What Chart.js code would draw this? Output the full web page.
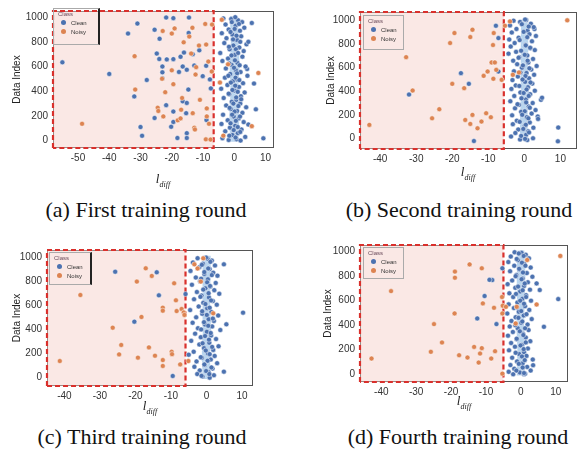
<!DOCTYPE html>
<html>
<head>
<meta charset="utf-8">
<script src="https://cdn.jsdelivr.net/npm/chart.js@4.4.1/dist/chart.umd.min.js"></script>
<style>
  body { margin: 0; background: #fff; }
  #page { position: relative; width: 588px; height: 454px; overflow: hidden; background: #fff; }
  canvas { position: absolute; }
  .cap { position: absolute; font: 22px "Liberation Serif", serif; color: #111; white-space: nowrap; transform: translate(-50%, -50%); }
  .xt { position: absolute; font: italic 13px "Liberation Serif", serif; color: #222; transform: translate(-50%, -50%); white-space: nowrap; }
  .xt sub { font-size: 8px; }
  .leg { position: absolute; border: 1px solid #aaa; font: 6px "Liberation Sans", sans-serif; color: #333; padding: 2px 4px; box-sizing: border-box; }
  .leg .t { color: #6a4a5a; margin-bottom: 1px; }
  .leg .r { display: flex; align-items: center; height: 9px; padding-left: 3px; }
  .leg .d { width: 5px; height: 5px; border-radius: 50%; margin-right: 5px; }
</style>
</head>
<body>
<div id="page">
  <canvas id="cA" width="294" height="195" style="left:0;top:0"></canvas>
  <canvas id="cB" width="294" height="195" style="left:294px;top:0"></canvas>
  <canvas id="cC" width="294" height="195" style="left:0;top:225px"></canvas>
  <canvas id="cD" width="294" height="195" style="left:294px;top:225px"></canvas>
</div>
<script>
// ---- data ----
const panelIds = ['cA', 'cB', 'cC', 'cD'];
const captions = ['(a) First training round', '(b) Second training round', '(c) Third training round', '(d) Fourth training round'];
const seriesNames = ['Clean', 'Noisy'];
const xTitle = 'l', xSub = 'diff';
const yTitle = 'Data Index';

// tick labels
const xTickVals = [[-50, -40, -30, -20, -10, 0, 10], [-40, -30, -20, -10, 0, 10], [-40, -30, -20, -10, 0, 10], [-40, -30, -20, -10, 0, 10]];
const yTickVals = [0, 200, 400, 600, 800, 1000];

// axis limits, dashed box right edge
const xLimits = [[-58, 12.7], [-45.6, 14.6], [-44.9, 13.1], [-46.1, 13.5]];
const yLimits = [[-60, 1050], [-91, 1074], [-69, 1058], [-63, 1054]];
const boxEdge = [-6.6, -5.7, -5.9, -5.0];

// light dense strip of clean points round zero
const bandY = [-10, 200, 400, 600, 800, 1010];
const bandLeft = [[-1.3, -1.6, -1.2, -1.5, -1.1, -1.4], [-1.0, -1.2, -0.9, -1.1, -1.0, -0.9], [-1.1, -1.3, -1.0, -1.2, -1.1, -1.0], [-1.2, -1.0, -1.3, -1.1, -1.2, -1.0]];
const bandRight = [[1.3, 1.6, 1.2, 1.7, 1.4, 1.2], [1.0, 0.9, 1.2, 1.0, 1.1, 0.9], [1.1, 1.0, 1.3, 1.1, 1.0, 1.2], [1.0, 1.2, 0.9, 1.1, 1.3, 1.0]];

const cleanA = [
  [-55,634],[-40,540],[-31,948],[-34,867],[-28,491],[-32,358],[-30,110],[-29.5,39],[-25.5,183],[-25.5,898],[-24.8,705],[-23.9,825],
  [-24,661],[-23,600],[-23,553],[-23,506],[-21.8,997],[-19.5,992],[-21.6,658],[-19.5,660],[-17.2,679],[-16.1,713],[-17.7,556],[-16.5,600],
  [-15.2,574],[-14.7,413],[-16.5,318],[-15.2,305],[-21.8,287],[-19.5,235],[-19.5,151],[-20.2,112],[-18.2,21],[-14.5,997],[-14.6,872],
  [-13.3,700],[-12.8,608],[-15.4,222],[-11.2,731],[-10.1,522],[-9,606],[-7.8,496],[-7.5,423],[-8.9,167],[-15.2,60],[-15.2,21],
  [9.3,18],[6.9,253],[6.3,462],[5.6,953],[4.1,580],[4.5,130],[3.9,780],
  [-3.5,990],[-1,985],[1.2,975],[2.5,960],[-2.8,940],[0.4,930],[3.2,915],[-1.8,900],[1.8,890],[-4,870],[-0.6,860],[2.2,845],[-2.5,830],
  [0.9,815],[4.5,800],[-3.2,790],[-0.3,770],[1.6,755],[-1.5,740],[3,725],[-4.5,710],[0.2,695],[2.6,680],[-2,665],[-3.8,645],[1,630],
  [-0.9,615],[3.6,600],[-2.7,585],[0.5,570],[2,555],[-1.3,540],[4.2,525],[-3,510],[0.8,495],[-0.5,480],[2.8,465],[-2.2,450],[1.5,435],
  [-4.2,420],[0.1,405],[3.3,390],[-1.6,375],[2.1,360],[-3.4,345],[0.6,330],[-0.8,315],[1.9,300],[-2.6,285],[3.8,270],[-1.1,255],[0.9,240],
  [2.6,225],[-3.6,210],[-0.2,195],[1.4,180],[-2.1,165],[3,150],[-4.1,135],[0.3,120],[-1.4,105],[2.3,90],[-2.9,75],[1.1,60],[-0.6,45],
  [3.5,30],[-3.8,20],[0.7,10],[2,0],[-1.8,5],
  [0.3,1000],[-0.8,960],[1.5,945],[0.1,905],[-1.2,880],[0.7,850],[-0.4,820],[1.9,800],[-1.7,760],[0.5,740],[1.2,710],[-0.9,690],
  [0.2,650],[-1.6,625],[1.7,610],[-0.1,590],[0.9,545],[-1.9,525],[0.4,510],[1.6,490],[-1.1,470],[0.3,445],[-0.6,410],[1.1,395],
  [-1.8,380],[0.6,350],[2.2,335],[-0.3,300],[1.3,280],[-1.5,265],[0.1,235],[-0.7,210],[1.8,195],[0.5,160],[-1.2,140],[1.1,110],
  [-0.2,85],[1.9,70],[-1.6,40],[0.4,25]
];
const noisyA = [
  [-48.7,136],[-31.9,684],[-31.7,413],[-19.1,909],[-20,867],[-22.9,888],[-13.4,914],[-14.4,843],[-16.2,796],[-11.3,770],[-9,778],
  [-13.8,705],[-7.1,940],[-9.3,945],[-8.3,640],[-12.2,595],[-12.4,535],[-20,569],[-19.5,457],[-23.1,501],[-22.1,392],[-16.7,345],
  [-24.5,266],[-24.3,240],[-22.7,196],[-18.1,164],[-17.2,180],[-13.3,222],[-12.8,104],[-12.6,90],[-8.8,261],[-8.8,196],[-8.1,136],
  [-9.1,10],[-7.6,8],[-11,330],[-7.2,560],[-17,250],[-4,979],[-4.6,470],[5.6,117],[7.7,548],[-2,618],[-3.5,40]
];

const cleanB = [
  [-17.6,554],[-15.4,463],[-32,372],[-14,-23],[-7.9,957],[-7.2,852],[-7.2,568],
  [9.4,91],[9.3,-26],[4.6,327],[3.7,185],[2.8,929],
  [-3,1000],[0.5,1005],[-1.2,990],[1.8,975],[-4,960],[2.6,945],[-2.2,930],[0.9,915],[-3.5,900],[1.4,885],[3.2,870],[-1.6,855],[-4.2,840],
  [2.1,825],[-2.7,810],[0.3,795],[-3.8,780],[1.7,765],[2.9,750],[-2.3,735],[-4.4,720],[0.8,705],[-1.4,690],[2.4,675],[-3.1,660],[1.1,645],
  [-2,630],[3.4,615],[-0.7,600],[1.9,585],[-2.9,570],[0.6,555],[2.7,540],[-1.8,525],[1.3,510],[-3.3,495],[0.2,480],[2.2,465],[-2.4,450],
  [1,435],[-3.6,420],[2.9,405],[-1.1,390],[1.6,375],[-2.8,360],[4.9,345],[0.4,330],[-3.9,315],[2.3,300],[-1.5,285],[1.2,270],[-2.6,255],
  [3.1,240],[-0.9,225],[2,210],[-3.4,195],[0.7,180],[3.8,165],[-2.1,150],[1.5,135],[-3.2,120],[0.1,105],[2.5,90],[-1.7,75],[1.1,60],
  [-2.5,45],[0.5,30],[-3.7,15],[2.4,0],[-1.2,-10],[0.8,-15],
  [0.2,1010],[-0.7,970],[1.2,950],[-0.2,905],[0.8,860],[-1.3,835],[0.4,790],[1.6,770],[-0.9,745],[0.1,710],[-1.6,685],[0.9,660],
  [-0.4,620],[1.4,595],[-1.1,560],[0.3,530],[-0.5,500],[1.7,475],[-1.4,445],[0.6,415],[-0.2,385],[1.2,360],[-0.8,340],[0.5,305],
  [-1.9,290],[1.5,260],[0.1,230],[-0.6,200],[1.1,170],[-1.3,140],[0.4,115],[-0.3,80],[1.3,50],[-0.9,20],[0.2,-5]
];
const noisyB = [
  [-43,114],[-32.8,690],[-31,406],[-25.6,170],[-23.6,247],[-20,463],[-20.6,810],[-19.4,895],[-16.7,426],[-16.4,156],[-15,122],
  [-14.4,199],[-13,85],[-15,861],[-14.4,923],[-11.3,531],[-11.9,142],[-10.6,213],[-10.2,568],[-9.3,179],[-8.6,506],[-9.1,645],
  [-8.2,645],[-7.8,582],[-8.7,793],[-8.5,895],[-6.3,497],[11.9,1003],[-4,994],[-5.4,957],[-3.2,540],[-1.5,560]
];

const cleanC = [
  [-25.7,878],[-14,873],[-13.4,682],[-20.3,464],[-9.5,14],[-5.9,693],
  [10.3,539],[4.9,939],[5.6,442],[4.9,50],
  [-2.5,990],[0.3,985],[1.5,970],[-3.8,955],[-1,945],[2.4,930],[-2,915],[0.9,900],[-4.5,885],[1.9,870],[-0.6,860],[3.1,845],[-3,830],
  [0.4,815],[-1.8,800],[2.6,785],[-4.1,770],[1.1,755],[-0.3,740],[2.2,725],[-2.7,710],[3.6,695],[-1.4,680],[0.7,665],[-3.5,650],[1.8,635],
  [-0.9,620],[2.9,605],[-2.2,590],[0.2,575],[-4.6,560],[1.4,545],[-1.2,530],[3.3,515],[-2.9,500],[0.6,485],[2.1,470],[-3.9,455],[-0.4,440],
  [1.6,425],[-2.4,410],[3.9,395],[0.1,380],[-3.2,365],[1.3,350],[-1.6,335],[2.7,320],[-4.3,305],[0.8,290],[-2,275],[3.4,260],[-0.7,245],
  [1.9,230],[-3.6,215],[0.4,200],[-5,190],[2.3,180],[-1.3,165],[1.2,150],[-2.8,135],[3,120],[-0.5,105],[-3.4,90],[1.7,75],[-1.9,60],
  [0.6,45],[-2.6,30],[2.1,20],[-1.1,10],[0.9,0],
  [-0.1,995],[1.1,960],[-1.3,935],[0.5,905],[-0.6,875],[1.5,850],[-1.5,820],[0.2,790],[1,760],[-0.9,730],[0.6,700],[-1.7,670],
  [1.3,640],[-0.3,610],[0.9,580],[-1.2,550],[0.1,520],[1.8,490],[-0.7,460],[0.5,430],[-1.5,400],[1.2,370],[-0.4,345],[0.7,315],
  [-1.1,285],[1.6,255],[-0.2,225],[0.9,195],[-1.6,170],[0.3,140],[-0.6,110],[1.4,85],[-0.1,55],[0.8,30],[-1.4,15]
];
const noisyC = [
  [-41.3,138],[-35.5,685],[-26.4,414],[-24,271],[-24.6,193],[-19.6,796],[-18.3,503],[-19.3,166],[-17.1,906],[-15.4,843],[-16.2,251],
  [-14.5,182],[-12.3,580],[-12.3,555],[-12.3,146],[-12.3,97],[-9.1,782],[-8.6,641],[-8.4,552],[-9.8,215],[-9.7,195],[-7,569],[-6.4,541],
  [-6.2,520],[-7.4,110],[-5.1,138],[-3.4,939],[-0.9,989],[-1.6,796],[1.9,533],[-2.5,905]
];

const cleanD = [
  [-12.5,455],[-10.4,638],[-8.2,768],[-7,409],[-5.3,864],[-9,770],
  [10.7,613],[6.6,387],[5.4,687],[4.5,741],[3.5,74],[0.9,0],
  [-1.8,995],[0.2,990],[1.4,975],[-2.9,960],[2.3,945],[-0.8,930],[-3.6,915],[1,900],[-1.9,885],[2.8,870],[-0.4,855],[-3.1,840],[1.7,825],
  [-1.3,810],[3.3,795],[0.5,780],[-2.5,765],[2,750],[-3.8,735],[0.9,720],[-1.6,705],[2.6,690],[-0.2,675],[-3.3,660],[1.5,645],[-2.2,630],
  [0.4,615],[2.9,600],[-1,585],[-3.5,570],[1.2,555],[-2,540],[2.4,525],[-0.6,510],[-3.9,495],[0.8,480],[-1.5,465],[3.1,450],[-2.7,435],
  [0.1,420],[1.9,405],[-3.2,390],[-0.9,375],[2.2,360],[-2.3,345],[0.6,330],[-3.7,315],[1.4,300],[-1.2,285],[2.7,270],[-2.8,255],[0.3,240],
  [-1.7,225],[2,210],[-3.4,195],[0.9,180],[-0.5,165],[1.6,150],[-2.5,135],[3.4,120],[-1.1,105],[0.5,90],[-3,75],[1.8,60],[-1.9,45],
  [2.8,30],[-3.5,20],[-0.3,15],[1.2,5],[-2.2,0],
  [-0.6,985],[0.8,965],[-1.2,940],[0.3,910],[1.3,885],[-0.5,860],[0.6,830],[-1.5,800],[0.2,775],[1.1,740],[-0.8,715],[0.5,685],
  [-1.4,655],[1.5,630],[-0.2,600],[0.9,575],[-1.1,545],[0.1,515],[1.6,490],[-0.7,460],[0.4,430],[-1.6,400],[1.2,375],[-0.3,350],
  [0.7,320],[-1.2,290],[1.4,260],[-0.1,235],[0.8,205],[-1.5,175],[0.3,145],[1.1,115],[-0.6,85],[0.5,55],[-1.3,30],[0.9,10]
];
const noisyD = [
  [-42.8,128],[-37.2,678],[-24.9,409],[-22.6,259],[-25.8,183],[-18.9,837],[-18.9,787],[-19,496],[-17.7,155],[-14.7,896],[-15.3,136],
  [-13.4,223],[-12.1,95],[-11.7,169],[-11.2,213],[-11.2,864],[-10.9,578],[-8.5,128],[-7.4,188],[-7.7,542],[-5.2,559],[-5.3,496],
  [-5.3,5],[-5.4,630],[11.3,965],[-4.3,550],[-1.2,550],[-1.5,414],[4.5,569],[1.8,932]
];

const cleanSets = [cleanA, cleanB, cleanC, cleanD];
const noisySets = [noisyA, noisyB, noisyC, noisyD];

// ---- layout (pixels inside each 294x195 canvas) ----
const layouts = [
  { top: 6,  right: 20, yw: 53, xh: 47, titlePad: 11, capX: 146, capY: 210, xtX: 163, xtY: 180, leg: [53, 8, 47, 37, true] },
  { top: 12, right: 11, yw: 66, xh: 46, titlePad: 31, capX: 459, capY: 210, xtX: 468, xtY: 173, leg: [363, 15, 41, 35, false] },
  { top: 25, right: 41, yw: 47, xh: 34, titlePad: 11, capX: 142, capY: 437, xtX: 150, xtY: 407, leg: [49, 252, 43, 33, true] },
  { top: 20, right: 20, yw: 66, xh: 38, titlePad: 28, capX: 458, capY: 437, xtX: 464, xtY: 402, leg: [363, 247, 41, 32, false] }
];

const blue = '#4c72b0', orange = '#dd8452';

const framePlugin = {
  id: 'frame',
  beforeDatasetsDraw(chart) {
    const a = chart.chartArea, ctx = chart.ctx;
    ctx.save();
    ctx.strokeStyle = '#555';
    ctx.lineWidth = 1;
    ctx.strokeRect(a.left + 0.5, a.top + 0.5, a.right - a.left - 1, a.bottom - a.top - 1);
    ctx.restore();
  }
};

function pts(arr) { return arr.map(p => ({ x: p[0], y: p[1] })); }

function makePanel(i) {
  const L = layouts[i];
  const xr = xLimits[i], yr = yLimits[i];
  const box = [
    { x: xr[0], y: yr[0] }, { x: xr[0], y: yr[1] },
    { x: boxEdge[i], y: yr[1] }, { x: boxEdge[i], y: yr[0] }, { x: xr[0], y: yr[0] }
  ];
  const band = bandY.map((y, k) => ({ x: bandLeft[i][k], y: y }))
    .concat(bandY.map((y, k) => ({ x: bandRight[i][k], y: y })).reverse());
  band.push(band[0]);

  const tickFont = { family: 'Liberation Sans', size: 10 };
  new Chart(document.getElementById(panelIds[i]), {
    type: 'scatter',
    data: {
      datasets: [
        { type: 'line', data: box, order: 4, borderColor: '#d9302c', borderWidth: 2.2, borderDash: [5, 3],
          backgroundColor: 'rgba(243,204,198,0.45)', fill: 'shape', pointRadius: 0, tension: 0, clip: false },
        { type: 'line', data: band, order: 3, borderWidth: 0, borderColor: 'rgba(0,0,0,0)',
          backgroundColor: 'rgba(172,206,236,0.85)', fill: 'shape', pointRadius: 0, tension: 0 },
        { label: seriesNames[0], data: pts(cleanSets[i]), order: 2, backgroundColor: blue,
          borderColor: 'rgba(255,255,255,0.8)', borderWidth: 0.6, pointRadius: 2.5 },
        { label: seriesNames[1], data: pts(noisySets[i]), order: 1, backgroundColor: orange,
          borderColor: 'rgba(255,255,255,0.8)', borderWidth: 0.6, pointRadius: 2.5 }
      ]
    },
    options: {
      responsive: false,
      animation: false,
      layout: { padding: { top: L.top, right: L.right, bottom: 0, left: 0 } },
      plugins: { legend: { display: false }, tooltip: { enabled: false } },
      scales: {
        x: {
          type: 'linear', min: xr[0], max: xr[1],
          grid: { display: false, drawTicks: false }, border: { display: false },
          afterBuildTicks: s => { s.ticks = xTickVals[i].map(v => ({ value: v })); },
          ticks: { padding: 4, color: '#333', font: tickFont, callback: v => String(v) },
          afterFit: s => { s.height = L.xh; }
        },
        y: {
          type: 'linear', min: yr[0], max: yr[1],
          grid: { display: false, drawTicks: false }, border: { display: false },
          afterBuildTicks: s => { s.ticks = yTickVals.map(v => ({ value: v })); },
          ticks: { padding: 5, color: '#333', font: tickFont, callback: v => String(v) },
          title: { display: true, text: yTitle, color: '#222', font: { family: 'Liberation Sans', size: 10 },
                   padding: { top: L.titlePad, bottom: 0 } },
          afterFit: s => { s.width = L.yw; }
        }
      }
    },
    plugins: [framePlugin]
  });

  const page = document.getElementById('page');
  const cap = document.createElement('div');
  cap.className = 'cap';
  cap.style.left = L.capX + 'px';
  cap.style.top = L.capY + 'px';
  cap.textContent = captions[i];
  page.appendChild(cap);

  const xt = document.createElement('div');
  xt.className = 'xt';
  xt.style.left = L.xtX + 'px';
  xt.style.top = L.xtY + 'px';
  xt.innerHTML = xTitle + '<sub>' + xSub + '</sub>';
  page.appendChild(xt);

  const g = L.leg;
  const leg = document.createElement('div');
  leg.className = 'leg';
  leg.style.left = g[0] + 'px';
  leg.style.top = g[1] + 'px';
  leg.style.width = g[2] + 'px';
  leg.style.height = g[3] + 'px';
  if (g[4]) leg.style.borderRight = '2px solid #222';
  leg.innerHTML = '<div class="t">Class</div>' +
    '<div class="r"><span class="d" style="background:' + blue + '"></span>' + seriesNames[0] + '</div>' +
    '<div class="r"><span class="d" style="background:' + orange + '"></span>' + seriesNames[1] + '</div>';
  page.appendChild(leg);
}

for (let i = 0; i < 4; i++) makePanel(i);
</script>
</body>
</html>
